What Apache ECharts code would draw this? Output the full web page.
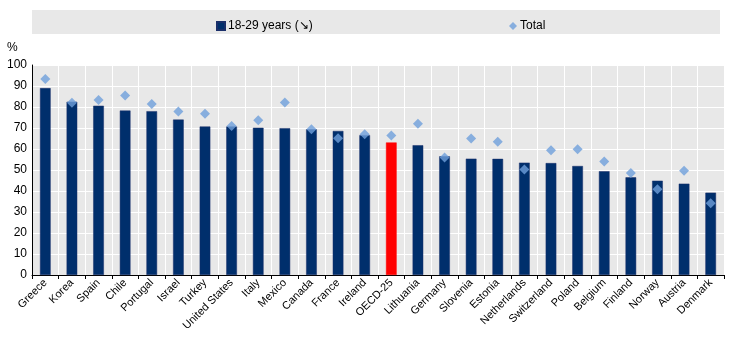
<!DOCTYPE html>
<html><head><meta charset="utf-8">
<script src="https://cdn.jsdelivr.net/npm/echarts@6/dist/echarts.min.js"></script>
<style>html,body{margin:0;padding:0;background:#fff}#c{width:734px;height:342px}</style>
</head><body><div id="c"></div>
<script>
const categories = ["Greece","Korea","Spain","Chile","Portugal","Israel","Turkey","United States","Italy","Mexico","Canada","France","Ireland","OECD-25","Lithuania","Germany","Slovenia","Estonia","Netherlands","Switzerland","Poland","Belgium","Finland","Norway","Austria","Denmark"];
const youth = [89.0,82.5,80.6,78.3,78.0,74.0,70.7,70.7,70.1,69.9,69.4,68.6,66.6,63.1,61.8,56.5,55.4,55.3,53.5,53.3,51.9,49.4,46.5,44.9,43.5,39.2];
const total = [93.3,82.0,83.3,85.5,81.4,77.9,76.8,71.0,73.7,82.2,69.4,65.1,67.0,66.4,72.0,55.9,65.0,63.5,50.2,59.4,59.9,54.1,48.6,40.8,49.7,34.2];
const yTicks = [0,10,20,30,40,50,60,70,80,90,100];
const highlight = "OECD-25";

const chart = echarts.init(document.getElementById('c'));
const font = '"Liberation Sans", Arial, sans-serif';
chart.setOption({
  animation: false,
  textStyle: {fontFamily: font},
  graphic: [
    {type:'rect', shape:{x:32,y:10,width:688,height:24}, style:{fill:'#E8E8E8'}, z:-1},
    {type:'text', left:7, top:42, style:{text:'%', fontSize:12, fontFamily:font, fill:'#000'}}
  ],
  legend: [
    {data:['18-29 years (↘)'], left:211, top:15, icon:'rect', itemWidth:8, itemHeight:8, itemGap:4,
     textStyle:{fontSize:12, color:'#000', fontFamily:font, padding:[0,0,0,-2]}},
    {data:['Total'], left:504, top:15, icon:'diamond', itemWidth:8, itemHeight:8,
     textStyle:{fontSize:12, color:'#000', fontFamily:font, padding:[0,0,0,-2]}}
  ],
  grid: {left:32, right:10, top:65, bottom:67, show:true, backgroundColor:'#E8E8E8', borderWidth:0},
  xAxis: {
    type:'category', data:categories, boundaryGap:true,
    axisLine:{lineStyle:{color:'#000', width:1}},
    axisTick:{show:true, length:4, lineStyle:{color:'#000'}},
    splitLine:{show:true, lineStyle:{color:'#fff', width:1}},
    axisLabel:{rotate:45, fontSize:11, color:'#000', margin:6, interval:0}
  },
  yAxis: {
    type:'value', min:0, max:100, interval:10,
    axisLine:{show:true, lineStyle:{color:'#000'}},
    axisTick:{show:false},
    splitLine:{show:true, lineStyle:{color:'#fff', width:1}},
    axisLabel:{fontSize:12, color:'#000', margin:5,
      formatter: v => yTicks.includes(v) ? String(v) : ''}
  },
  series: [
    {name:'18-29 years (↘)', type:'bar', barWidth:'40%',
     itemStyle:{color:'#002F6C', borderColor:'#1a2f6a', borderWidth:0.5},
     data: youth.map((v,i) => categories[i]===highlight ? {value:v, itemStyle:{color:'#FF0000', borderColor:'#FF0000'}} : v)},
    {name:'Total', type:'scatter', symbol:'diamond', symbolSize:10,
     itemStyle:{color:'#6E9FDB'}, data: total, z:3}
  ]
});
</script></body></html>
